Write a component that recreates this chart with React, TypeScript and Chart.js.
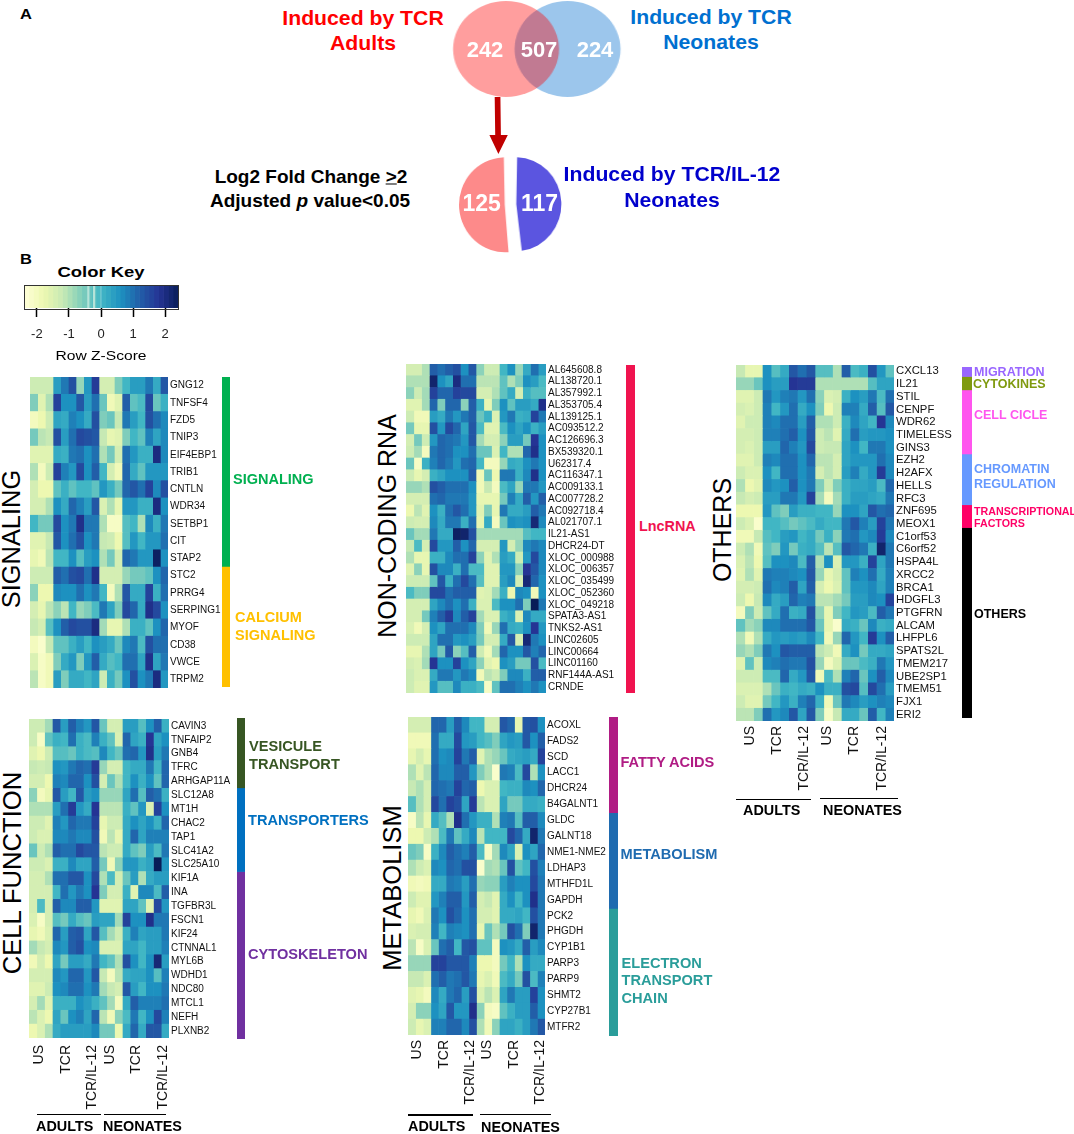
import React, { useEffect, useRef } from "react";
import { Chart, registerables } from "chart.js";

Chart.register(...registerables);
Chart.defaults.font.family = '"Liberation Sans", Arial, sans-serif';
Chart.defaults.color = "#000";

const FONT = '"Liberation Sans", Arial, sans-serif';

/* ---------- data ---------- */
const vennCounts = [242, 507, 224];
const splitCounts = [117, 125];
const keyEdges = [-2.4, -2.25, -2.1, -1.95, -1.8, -1.65, -1.5, -1.35, -1.2, -1.05, -0.9, -0.75, -0.6, -0.45, -0.3, -0.15, 0, 0.15, 0.3, 0.45, 0.6, 0.75, 0.9, 1.05, 1.2, 1.35, 1.5, 1.65, 1.8, 1.95, 2.1, 2.25, 2.4];
const keyTicks = [-2, -1, 0, 1, 2];
const columnLabels = ["US", "TCR", "TCR/IL-12", "US", "TCR", "TCR/IL-12"];

const signalingGenes = ["GNG12", "TNFSF4", "FZD5", "TNIP3", "EIF4EBP1", "TRIB1", "CNTLN", "WDR34", "SETBP1", "CIT", "STAP2", "STC2", "PRRG4", "SERPING1", "MYOF", "CD38", "VWCE", "TRPM2"];
const signalingValues = [
  [-1.3, -1.3, -1.3, .4, .9, 1.4, -.8, .5, 1.7, -1.4, -1.4, -.6, 0, .4, .4, .9, .2, 1.3],
  [-.6, -1.6, -1, 1.6, .6, .6, 1.3, .4, 1, -.4, -1.9, -1.6, 1.2, -.3, -.1, 1.5, -.4, .1],
  [-2, -1.8, -1.3, .3, .2, .8, .6, .2, 1.4, -.6, -.4, -1.2, .9, .4, 0, 1.4, 1, .7],
  [-.5, -1.1, -1.2, 1.4, .4, 1, 1.5, 1.4, 1.3, -1.2, -1.7, -1.6, -.6, 0, -.3, .8, .3, .7],
  [-1.6, -1.6, -1.6, .2, .1, .9, 1, .6, 1, -1, -.5, -1.4, 1, .5, .1, .1, 2, .7],
  [-1, -2, -1.3, 1.6, .8, .5, 1.5, .6, 1.2, 0, -1.4, -1.9, 1.1, .2, -.3, .5, .5, .5],
  [-1.4, -1.8, -1.8, -.3, .1, -.3, 0, 0, -.3, .5, .1, -.5, 1.1, 1.3, 1, 1.6, .7, 1.4],
  [-1.4, -1.4, -1, .6, .2, 1.1, .8, .4, 1.3, -1.5, -1, -1.7, .5, .5, .1, .1, 2, .6],
  [0, -.5, -.5, 1.5, .6, .9, 1.9, .9, .9, -1, -2.1, -2.1, -.2, 0, -1, .7, .1, .9],
  [-1.6, -1.6, -1.2, 1.3, .6, 1, 1.4, .6, .9, -1.2, -1.3, -1.8, -.2, .5, 0, .5, .5, 1],
  [-1.7, -1.9, -1.1, 0, 0, .6, -.2, .4, .6, -1, -.5, -1.4, 1.1, .9, .5, .5, 2.3, .6],
  [-1.3, -1.3, -1.3, 1.2, 1, 1.4, 1.5, 1, 1.9, -1.4, -1.4, -1.4, -.8, -.5, -.5, -.3, .6, 1.1],
  [-.7, -1.8, -1.8, .7, .6, .6, 1, .6, .9, 0, -2, -1, 1.3, .2, .2, 1.6, .1, 1],
  [-1.4, -1.7, -1.1, -.7, -1.1, 0, -.8, -.6, -.1, .9, .3, -.6, 1.5, 1.1, .2, 1.9, 1.5, .6],
  [-1.2, -1.4, -.2, .6, 1.2, 1.5, 1.4, 1.4, 2, -.9, -1.7, -1.7, -1, .1, .1, -.3, .6, 1.1],
  [-2, -2.2, -1.2, -.3, -.3, .1, .4, 0, .6, .4, .2, -.4, .7, .9, -.1, 1.4, 1, 1],
  [-1.5, -2.1, -1.9, -.6, .2, .5, -.6, .5, 1.2, .2, -.2, 0, 1, 1, .3, 1.9, .3, .9],
  [-1.1, -2.1, -1.9, .4, -.6, .2, .2, 0, .3, -1.3, .1, -.5, .6, 1.4, .6, .9, 2, .5],
];

const noncodingGenes = ["AL645608.8", "AL138720.1", "AL357992.1", "AL353705.4", "AL139125.1", "AC093512.2", "AC126696.3", "BX539320.1", "U62317.4", "AC116347.1", "AC009133.1", "AC007728.2", "AC092718.4", "AL021707.1", "IL21-AS1", "DHCR24-DT", "XLOC_000988", "XLOC_006357", "XLOC_035499", "XLOC_052360", "XLOC_049218", "SPATA3-AS1", "TNKS2-AS1", "LINC02605", "LINC00664", "LINC01160", "RNF144A-AS1", "CRNDE"];
const noncodingValues = [
  [-1.4, -1.4, -1, 1.2, 1, 1.2, 1.4, .6, 1.3, -.7, -1.3, -1.3, 0, .6, -.8, .2, 1, .4],
  [-1, -1, -1, 2.2, .6, .3, 2, 1, 1, -1.1, -1.1, -1.1, -.3, -1, -.6, .6, .4, -.1],
  [-.7, -1.3, -.9, 1.6, 1.1, 1.1, 1.6, 1.5, 1.5, -1.4, -1.4, -1, -.3, .2, -1.4, .1, -.2, -.2],
  [-1.6, -1.6, -.9, 1.1, -.6, 1.1, 1.1, -.7, 1.2, .1, -1.7, -.6, .6, -.3, .4, .4, .2, 1.9],
  [-1.3, -1.9, -1.9, .4, .2, .9, .5, .9, 1.2, -.4, .1, -1.5, .5, .9, .1, .2, 1.6, .9],
  [-.5, -1.7, -1.7, 1.4, .5, 1.5, 1.1, .3, 1.3, -.1, -1.6, -1.6, -.1, .6, .3, .6, .1, .4],
  [-1.4, -.5, -1.3, .5, 1.1, 1, .9, .5, 1.3, -.9, -1.4, -1.4, -.7, .4, .4, -.5, 1.8, .6],
  [-1.3, -.9, -2, .9, 1.1, 1, .6, .6, 1, -.4, -.4, -1.5, 0, -1, -1, 1.1, 1.9, .6],
  [-.4, -2.1, .1, .8, 1.1, .9, .5, 1, 1.1, 0, -2, -2, -.8, .2, .1, .6, .9, .6],
  [-1.3, -1.7, -1.4, .1, .3, .6, .6, .6, 1.2, -1.9, -.4, -1.8, .9, .9, .1, .7, 1.9, .6],
  [-.8, -.8, -1, 1.4, 1.2, 1, 1, 1, .6, -1.9, -1.2, -2, -.1, .3, -.8, .9, .9, .5],
  [-1.4, -1.4, -1.4, 1, 1.1, .9, .9, .9, .5, -1.7, -1.7, -1.7, -.5, .8, .2, 1.2, .5, 1.2],
  [-1.8, -1.1, -1.6, .6, .1, 1, 1.3, 1, .5, -1.6, -.6, -1.7, .9, .2, .2, .4, 1.2, .9],
  [-1.3, -1.4, -1.4, .7, .2, .9, .9, .1, 1, -1.7, .2, -2, -.4, .6, .5, .6, 2.1, .7],
  [-.4, -.9, -.9, .9, .2, .2, 2.3, 2.2, 1.4, -.9, -.9, -.9, -.9, -.9, -.9, -.2, 0, 0],
  [-1.2, -.1, -1.4, 1.5, .5, .5, 1.2, .6, 1.1, -1.4, -1.4, -1.4, .5, -1.4, -.8, .7, .9, .7],
  [-1, -1.7, -1.7, .1, .1, .7, 1, 1, 1.6, -.7, -1.6, -1, .4, .2, -1.3, .5, 1.5, .7],
  [-1.6, -.7, -1.7, 1.4, .7, .7, .1, 1, -.1, -.1, -1.6, -1.6, .5, .5, -.7, 1.8, 1.3, .7],
  [-1.3, -1.3, -1.3, -.3, 1.3, .1, 1, 1.5, 1, -.2, -1.6, -1.6, .4, .7, -1.4, 2.1, 1.1, .6],
  [-.1, -.6, -.6, 1.5, 1.5, 1, 1.2, 1.2, 1.2, -1.6, -1.5, -.9, .1, -1.8, .7, .6, -1.9, .6],
  [-1.4, -1.4, -1.4, .3, .7, 1, .6, 1, .1, -1.5, -1.5, -.1, .6, .6, 1, -.6, 2.4, .9],
  [-1.4, -1.4, -.5, .8, 1.2, 1.7, .7, 1.2, 1.6, -.9, -1.5, -1.5, .1, .3, -1.5, .7, .2, .2],
  [-1.5, -1.9, -1.4, .6, .3, 1, 1, 1, .7, -.6, -1.9, -.8, 1, .2, .1, .6, 1.8, .5],
  [-1.3, -1.3, -1.3, .3, 1, 1, .5, .6, .4, -.5, -1.4, -1.4, .2, 1.3, -1.4, 2.1, .9, .6],
  [-1.7, -1.7, -1, .3, -.5, 1.3, -.7, -.2, 1.2, -1.3, -1.9, -.9, 1.1, .6, .6, 1.3, .8, 1.1],
  [-1.4, -1.5, -.9, 1.8, .6, .6, 1.6, .6, .3, -.7, -1.6, -1.8, .6, .4, -.5, -.5, 1.4, -.1],
  [-1.3, -1.5, -1.5, .2, .9, .9, .5, .9, .7, -1.9, -1.1, -1.3, -.6, .7, .7, .1, 1.2, 1.2],
  [-1.3, -1.6, -1.6, .5, -.2, -.2, .7, .1, .1, -.1, -2.1, -.3, 1, 1, .8, .6, .9, .6],
];

const othersGenes = ["CXCL13", "IL21", "STIL", "CENPF", "WDR62", "TIMELESS", "GINS3", "EZH2", "H2AFX", "HELLS", "RFC3", "ZNF695", "MEOX1", "C1orf53", "C6orf52", "HSPA4L", "XRCC2", "BRCA1", "HDGFL3", "PTGFRN", "ALCAM", "LHFPL6", "SPATS2L", "TMEM217", "UBE2SP1", "TMEM51", "FJX1", "ERI2"];
const othersValues = [
  [-1.2, -1.7, -1.7, .6, -.2, .2, 1.3, 1, 1.3, -.2, -.2, -1, 1.2, -.1, .1, 1.4, .5, -.3],
  [-.8, -.8, -.4, .6, .4, .4, 1.8, 1.7, 1.7, -1, -1, -1, -1, -1, -1, -.2, .3, .3],
  [-1.6, -1.6, -1.3, .9, .5, .8, .9, .5, 1, -.7, -1.5, -1.4, .1, .6, .4, .9, -.1, 1],
  [-1.4, -1.5, -1.3, .8, 0, .5, 1, .2, .6, -.6, -1.8, -1.3, .8, .8, .2, 1.2, -.2, 1.3],
  [-1.6, -1.3, -1.3, .8, .7, 1, 1, .4, 1.2, -1, -1, -1.3, .1, .7, .3, 0, 1.8, .7],
  [-1.4, -1.4, -1.3, .8, .8, 1, 1.2, .6, 1.3, -1.3, -1.1, -1.6, .2, 1, .4, .5, .5, .6],
  [-1.4, -1.5, -1.3, .4, .4, 1.1, .8, .5, 1.5, -1.3, -1.2, -1.2, .3, .6, 0, .9, .9, .6],
  [-1.6, -1.6, -1.3, .8, .7, 1, 1, .6, 1.1, -1.1, -1.1, -1.4, .3, .5, .5, .5, 1, .7],
  [-1.3, -1.5, -1.5, .6, 0, 1, 1, .6, .9, -1.4, -1.1, -1.4, .4, .8, .2, .5, 1.7, .7],
  [-1, -1.8, -1.6, .7, .5, .6, 1.2, .6, .9, -.6, -1.3, -.6, .1, .3, .3, .4, -.1, 1.1],
  [-1.2, -1.4, -1.3, .4, .4, .9, .9, .5, 1.6, -.9, -2, -.9, .1, .4, .4, .3, .2, .9],
  [-1.8, -1.8, -1.8, .5, -.3, -.6, .4, .1, .1, 0, 0, -.8, .6, .6, .3, 1.3, 1, 1.1],
  [-1.3, -1.5, -2.2, 0, 0, -.2, -.5, -.3, -.1, .2, 0, 0, .9, 1.3, .8, .4, 1.6, .9],
  [-1.9, -1.9, -1.2, -.2, 0, .4, .5, 0, .2, -.5, .1, -.7, .9, 1, .5, .7, 1.7, .7],
  [-1.3, -1, -1.9, -.3, -.6, .5, -.5, .1, .2, -.2, -1.1, -.2, 1.3, 1.1, .9, .1, 2.2, .9],
  [-1.5, -1.1, -1.8, -.2, .6, .6, .7, -.1, 1.2, -1, .6, -1.5, .5, .5, .1, 1.6, .3, .9],
  [-1.6, -1, -1.6, .9, .8, .8, .7, .6, 1.3, -.8, -1.7, -1.4, -.3, .8, .6, 1, .2, .8],
  [-1.4, -1.4, -1.3, 1, .7, .8, 1.2, .3, 1.2, -1.4, -1.8, -1.5, -.3, .5, .5, .7, .3, .8],
  [-1.3, -1.8, -1.2, .7, .2, .4, 1.1, .8, .9, -1.1, -1.1, -.9, -.5, .4, .4, .7, .6, 1.6],
  [-2, -.6, -1.3, -.3, .2, 1, .1, .2, 1.4, -.7, -1.7, -.6, 0, .5, .4, -.1, 1.2, .9],
  [-.3, -.9, -.7, .7, .7, 1, 1, 1, 1.3, -.4, -1.7, -2.2, .2, .1, -.4, .7, .1, .2],
  [-1, -1.9, -1, .2, .5, .4, .5, .4, .7, 0, -1.9, -.8, 1.1, .5, 0, 1.7, .6, 1.2],
  [-.8, -1, -.6, .9, .6, 1.3, 1.2, 1.2, 1.2, -1.1, -1.3, -1.9, .2, .6, -.5, .2, .2, .3],
  [-1.6, -.3, -1.3, .7, .8, 1, .9, .9, 1.4, -.8, -2, -1.5, -.4, -.4, -.1, .1, .9, .5],
  [-1.3, -1.3, -1.3, -.1, -.1, 1.1, .2, .5, 1.3, -1.9, -.1, -1, .8, 1.1, -.4, .6, 1.2, .7],
  [-1.5, -1.5, -1.5, -1, -.4, .1, 0, .2, .1, .6, .1, .1, 1.4, 1.5, -.2, 1.5, 1, .4],
  [-1.3, -1.6, -1.6, -.5, 0, .5, .1, .8, 1.1, .1, -1.9, -.4, .9, .7, .4, .6, .8, .7],
  [-1.1, -1.1, -.6, 1, .5, .7, 1.3, .3, 1.3, -.6, -2.1, -1.2, .2, .2, -.4, 1.2, 0, .8],
];

const cellGenes = ["CAVIN3", "TNFAIP2", "GNB4", "TFRC", "ARHGAP11A", "SLC12A8", "MT1H", "CHAC2", "TAP1", "SLC41A2", "SLC25A10", "KIF1A", "INA", "TGFBR3L", "FSCN1", "KIF24", "CTNNAL1", "MYL6B", "WDHD1", "NDC80", "MTCL1", "NEFH", "PLXNB2"];
const cellValues = [
  [-1.3, -1.3, -.9, 1.3, .4, 1.2, .8, .5, 1.3, -.4, -1.4, -1.4, .4, .4, -.2, .6, 1.2, .1],
  [-1.3, -2.1, -.3, .1, 0, 1, .1, -.1, .8, .1, -.3, -1.5, 1.1, .3, .1, 1.8, .3, .6],
  [-1.6, -1.8, -1.3, -.2, -.2, -.4, .1, -.1, -.2, .7, 0, -.4, 1, 1.1, .5, 1.9, .4, .9],
  [-1.2, -1.3, -1.2, .6, .5, .9, 1.1, 1, 1.7, -.8, -1.4, -1.4, 0, .2, .2, .9, 0, 1.1],
  [-1.4, -1.4, -1.8, .8, .7, 1.1, 1.1, .6, 1.4, -1.4, -.4, -1, 0, .6, .1, .6, -.3, 1.1],
  [-.7, -2, -1.7, 1.3, .4, 0, 1.3, .4, .6, -.8, -.8, -.8, .3, 1, -.2, 1.2, 1, .1],
  [-1, -1, -1, .4, 1, 1.7, .5, .2, 1.8, -1.1, -1.1, -1.1, .1, -.3, .5, -1.5, 1.6, .6],
  [-1.3, -1.3, -1.6, .8, .5, 1.1, .9, .9, 1.6, -1.7, -1.3, -1.3, .2, .6, .3, .6, .1, 1.1],
  [-1.3, -1.5, -1.5, .7, .7, .9, .7, .7, 1.4, -1.9, -1.1, -1.7, .2, 1.1, .3, .8, .8, .8],
  [-.4, -1.3, -1, 1.2, 1, 1, 1.5, 1.3, 1.3, -1.1, -1.3, -1.3, .2, -.3, -.6, .4, -.1, .9],
  [-1.3, -1.3, -1.5, .1, .1, .7, .3, .3, 1.2, -.5, -1.9, -.7, .5, .5, .1, .3, 2.4, .5],
  [-1.4, -1.4, -1, 1, 1, 1.3, 1.3, .6, 1.5, -1, -.1, -1.4, -.4, .4, -1, .2, .4, .4],
  [-1.4, -1.4, -1.4, 0, 1, .5, .9, .6, 1.8, -.6, -1.4, -1.4, .1, -1.6, .7, .7, -.1, 1.2],
  [-1.4, -.1, -1.4, 1.2, .7, .7, 1.2, 1.2, .5, -1.6, -1.6, -1.6, .3, .3, -.3, -1.6, 1.5, .5],
  [-1.5, -2.1, -1.4, -.2, -.5, .2, -.2, -.4, .4, .3, .3, -.9, 1.6, .6, .6, 1.9, .9, .9],
  [-1.7, -1.9, -1.5, 1.1, .4, 1.2, 1.3, .3, 1.3, -.2, -.9, -1.3, .1, .8, .3, .4, .4, .9],
  [-.9, -1.2, -1.4, .7, .5, 1.2, 1.4, .6, .7, -1.5, -1.5, -1.5, .3, .3, 0, .4, .4, .8],
  [-1.9, -1.4, -1.8, .3, -.5, .4, .4, .2, .9, 0, -.3, -1, 1.4, .6, 0, .6, 2.1, .4],
  [-1.4, -1.4, -1.4, .7, .5, 1.1, 1.1, .5, 1.3, -1.2, -2, -1.1, .2, .3, .3, .6, -.2, .8],
  [-1.6, -1.6, -1.3, .6, .7, 1, 1, .6, .9, -.9, -1.2, -1.4, 1.3, .4, 0, .6, .6, .9],
  [-1.4, -.9, -1.6, .1, .1, .1, .6, .4, .1, -.3, -.9, -2, .2, 1.2, .8, .8, .8, 1],
  [-1.1, -1.5, -1.8, .3, -.4, .6, .8, .3, 1.1, -1.1, -1.9, -.7, -.1, .9, 0, .6, 1.5, .8],
  [-1.8, -1.5, -1, .2, .4, .4, .4, .4, .7, -.5, -.5, -1.8, .2, 1.1, .2, 1.3, 1.3, .2],
];

const metabolismGenes = ["ACOXL", "FADS2", "SCD", "LACC1", "DHCR24", "B4GALNT1", "GLDC", "GALNT18", "NME1-NME2", "LDHAP3", "MTHFD1L", "GAPDH", "PCK2", "PHGDH", "CYP1B1", "PARP3", "PARP9", "SHMT2", "CYP27B1", "MTFR2"];
const metabolismValues = [
  [-1.4, -1.4, -1.4, 1.1, 1.1, .4, 1.2, .7, 0, 0, -1.4, -1.4, 1.3, 1.1, -1.7, 1.3, 1.4, .6],
  [-1.9, -1.9, -1.9, 1, .2, .2, 1.5, .5, .4, 0, -.2, -.6, .3, .5, .4, 1.3, .6, 1.2],
  [-1.7, -1.4, -1.7, 1, .6, .7, 1.6, .9, 1.2, -1.6, -1, -.8, -.4, .2, .3, .4, .2, 1.6],
  [-1, -1.6, -1.1, 1.1, .7, .7, 1.2, 1.2, .5, -.6, -1, -2.2, .9, .8, -.1, 1.5, -1, .6],
  [-1.2, -1, -1.4, 1.1, 1, .9, 1.6, 1.1, 1.2, -1.8, -1.5, -1.5, 0, .1, .1, .7, .6, 1.1],
  [-.2, -1, -1.4, 1.5, 1, 1.6, 1.4, .3, 1.7, -1.1, -1.5, -1.5, .3, -.5, -.5, .2, .2, .1],
  [-2.1, -1.1, -1.7, .2, -.2, -1, 1.9, 1, .5, .1, .1, -1, .8, .9, -.2, 1.2, 1.2, .7],
  [-1.8, -1.8, -1.3, -1, -.1, .9, -.3, .2, .7, -1.1, 0, 0, 0, 1.5, 1.1, .2, 2.2, .9],
  [-.4, -.6, -2.1, .1, .7, 1.2, 1, .8, 1.2, -.1, -2.1, -.9, .7, .3, -1.5, .6, .3, 1.1],
  [-1, -1.3, -1.5, .7, .6, 1.1, 1, 1.4, 1.4, -2.2, -.9, -1, -.4, 1.4, -.3, 0, 1.4, .8],
  [-1.9, -2, -1.9, .2, .2, .9, .8, .4, 1, -.8, -.7, -.7, .4, .8, .6, .6, 1.5, .9],
  [-1.3, -1.6, -1.6, .5, .8, 1.2, 1.2, .5, 1.2, -1.4, -1.2, -1.6, .2, .6, 0, .6, 1.9, .9],
  [-1.7, -1.9, -1.5, .9, .6, 1.4, 1.1, .6, 1, -1.4, -1.4, -1.6, .2, .2, .3, 0, 1.4, .9],
  [-1.5, -1.4, -1.4, .8, 0, .8, .7, .6, 1, -1.7, -.4, -1, -.5, 1.4, 1, -.6, 2.2, .9],
  [-1.1, -2.1, -1.5, -.4, 1, 1.2, 0, 1.3, 1.4, -.3, -.3, -2, .6, .5, .2, 1.2, .4, .7],
  [-.8, -.8, -.8, 1.6, 1.6, 1.3, 1.3, 1.3, .8, -1.8, -1.8, -2, -.5, 0, -1, .6, .2, .2],
  [-1.2, -1.2, -1.5, 1, 1.2, .9, 1, 1.3, .9, -1.7, -1.5, -1.9, -.1, .2, -.5, 1.4, -.1, .8],
  [-1.6, -1.7, -2, .7, .2, .9, 1.1, .4, 1.4, -1.5, -1.1, -1.5, .3, .9, .4, .4, 1.6, .6],
  [-1.4, -.7, -.7, .6, .3, 1.3, .5, .5, 1.9, -.7, -2, -2.1, -.3, .1, .4, .4, 1.2, .6],
  [-1.3, -1.7, -1.5, .8, .8, 1.1, 1.1, .7, 1.4, -1, -1.9, -.7, .3, .3, .1, .4, .9, 1.3],
];

const signalingGroups = [["SIGNALING", 11, "#00b050"], ["CALCIUM SIGNALING", 7, "#ffc000"]];
const noncodingGroups = [["LncRNA", 28, "#f0134f"]];
const othersGroups = [["MIGRATION", 0.75, "#9966ff"], ["CYTOKINES", 1.05, "#7f9a0f"], ["CELL CICLE", 5.05, "#ff55ee"], ["CHROMATIN REGULATION", 4, "#6699ff"], ["TRANSCRIPTIONAL FACTORS", 1.8, "#ff0066"], ["OTHERS", 15, "#000000"]];
const cellGroups = [["VESICULE TRANSPORT", 5, "#375623"], ["TRANSPORTERS", 6, "#0070c0"], ["CYTOSKELETON", 12, "#7030a0"]];
const metabolismGroups = [["FATTY ACIDS", 6, "#b01c84"], ["METABOLISM", 6, "#1f6bb0"], ["ELECTRON TRANSPORT CHAIN", 8, "#2a9d9a"]];

/* ---------- colour scale (YlGnBu over -2.4 .. 2.4) ---------- */
const ramp = [[255, 255, 217], [237, 248, 177], [199, 233, 180], [127, 205, 187], [65, 182, 196], [29, 145, 192], [34, 94, 168], [37, 52, 148], [8, 29, 88]];
function zColor(z: number) {
  const t = Math.max(0, Math.min(7.9999, ((z + 2.4) / 4.8) * 8));
  const i = Math.floor(t);
  const f = t - i;
  const c = ramp[i].map((a, k) => Math.round(a + (ramp[i + 1][k] - a) * f));
  return `rgb(${c[0]},${c[1]},${c[2]})`;
}

/* ---------- chart components ---------- */
function useChart(make: (c: HTMLCanvasElement) => Chart) {
  const ref = useRef<HTMLCanvasElement>(null);
  useEffect(() => {
    const ch = make(ref.current as HTMLCanvasElement);
    return () => ch.destroy();
  }, []);
  return ref;
}

const noPad = (s: any) => {
  s.paddingTop = 0;
  s.paddingBottom = 0;
  s.paddingLeft = 0;
  s.paddingRight = 0;
};

function Heatmap({ x, y, w, h, genes, values, size = 10, labelW = 90, tickAt, tickPad = 5 }: any) {
  const bottom = tickAt ? 80 : 0;
  const ref = useChart((c) =>
    new Chart(c, {
      type: "bar",
      data: {
        labels: genes,
        datasets: values[0].map((_: number, col: number) => ({
          data: genes.map(() => 1),
          backgroundColor: values.map((row: number[]) => zColor(row[col])),
          borderWidth: 0,
          barPercentage: 1,
          categoryPercentage: 1,
        })),
      },
      options: {
        indexAxis: "y",
        responsive: false,
        animation: false,
        events: [],
        layout: { padding: 0, autoPadding: false },
        plugins: { legend: { display: false }, tooltip: { enabled: false } },
        scales: {
          y: {
            stacked: true,
            position: "right",
            grid: { display: false, drawTicks: false },
            border: { display: false },
            ticks: { autoSkip: false, font: { size }, color: "#111", padding: 2 },
            afterFit: (s: any) => { s.width = labelW; noPad(s); },
          },
          x: {
            stacked: true,
            type: "linear",
            min: 0,
            max: values[0].length,
            display: !!tickAt,
            grid: { display: false, drawTicks: false },
            border: { display: false },
            afterBuildTicks: (s: any) => { s.ticks = (tickAt || []).map((v: number) => ({ value: v })); },
            ticks: {
              autoSkip: false,
              maxRotation: 90,
              minRotation: 90,
              padding: tickPad,
              font: { size: 14 },
              color: "#111",
              callback: (_: any, i: number) => columnLabels[i],
            },
            afterFit: (s: any) => { s.height = bottom; noPad(s); },
          },
        },
      },
    } as any)
  );
  return <canvas ref={ref} width={w + labelW} height={h + bottom} style={{ position: "absolute", left: x, top: y }} />;
}

function GroupBar({ x, y, w, h, groups }: any) {
  const total = groups.reduce((a: number, g: any) => a + g[1], 0);
  const ref = useChart((c) =>
    new Chart(c, {
      type: "bar",
      data: {
        labels: ["group"],
        datasets: groups.map((g: any) => ({ label: g[0], data: [g[1]], backgroundColor: g[2], borderWidth: 0, barPercentage: 1, categoryPercentage: 1 })),
      },
      options: {
        responsive: false,
        animation: false,
        events: [],
        layout: { padding: 0, autoPadding: false },
        plugins: { legend: { display: false }, tooltip: { enabled: false } },
        scales: {
          x: { stacked: true, display: false },
          y: { stacked: true, display: false, reverse: true, min: 0, max: total },
        },
      },
    } as any)
  );
  return <canvas ref={ref} width={w} height={h} style={{ position: "absolute", left: x, top: y }} />;
}

function ColorKey() {
  const ref = useChart((c) =>
    new Chart(c, {
      type: "bar",
      data: {
        labels: ["key"],
        datasets: [
          { data: [[-0.42, -0.37]], backgroundColor: "#b5e3d8", borderWidth: 0 },
          { data: [[-0.24, -0.19]], backgroundColor: "#b5e3d8", borderWidth: 0 },
          ...keyEdges.slice(0, -1).map((e, i) => ({
            data: [[e, keyEdges[i + 1]]],
            backgroundColor: zColor((e + keyEdges[i + 1]) / 2),
            borderWidth: 0,
          })),
        ].map((d) => ({ ...d, barPercentage: 1, categoryPercentage: 1, grouped: false })),
      },
      options: {
        indexAxis: "y",
        responsive: false,
        animation: false,
        events: [],
        layout: { padding: 0, autoPadding: false },
        plugins: { legend: { display: false }, tooltip: { enabled: false } },
        scales: {
          y: { display: false },
          x: {
            type: "linear",
            min: -2.4,
            max: 2.4,
            afterBuildTicks: (s: any) => { s.ticks = keyTicks.map((v) => ({ value: v })); },
            grid: { display: true, drawOnChartArea: false, drawTicks: true, tickLength: 9, tickColor: "#000", tickWidth: 1.5 },
            border: { display: false },
            ticks: { autoSkip: false, maxRotation: 0, padding: 10, font: { size: 13 }, color: "#222", callback: (v: number) => String(v) },
            afterFit: (s: any) => { s.height = 40; noPad(s); },
          },
        },
      },
    } as any)
  );
  return <canvas ref={ref} width={154} height={62} style={{ position: "absolute", left: 24, top: 286 }} />;
}

function VennTop() {
  const ref = useChart((c) =>
    new Chart(c, {
      type: "bubble",
      data: {
        datasets: [
          { data: [{ x: 0, y: 0, r: 48 }], backgroundColor: "rgba(255,0,0,0.38)", borderWidth: 0 },
          { data: [{ x: 55.7, y: 0, r: 48 }], backgroundColor: "#9cc6ec", borderWidth: 0 },
        ],
      },
      options: {
        responsive: false,
        animation: false,
        events: [],
        layout: { padding: 0, autoPadding: false },
        plugins: { legend: { display: false }, tooltip: { enabled: false } },
        scales: { x: { display: false, min: -59.8, max: 121.2 }, y: { display: false, min: -50, max: 50 } },
      },
    } as any)
  );
  return <canvas ref={ref} width={181} height={100} style={{ position: "absolute", left: 440, top: -1, transform: "scaleX(1.104)", transformOrigin: "left top" }} />;
}

function VennSplit() {
  const ref = useChart((c) =>
    new Chart(c, {
      type: "pie",
      data: {
        labels: ["Neonates", "Adults"],
        datasets: [{ data: splitCounts, backgroundColor: ["#5b55e0", "#fd8a8a"], borderWidth: 0, offset: 24 }],
      },
      options: {
        responsive: false,
        animation: false,
        events: [],
        rotation: 0,
        layout: { padding: 0, autoPadding: false },
        plugins: { legend: { display: false }, tooltip: { enabled: false } },
      },
    } as any)
  );
  return <canvas ref={ref} width={107} height={107} style={{ position: "absolute", left: 457, top: 151, transform: "scaleX(0.962)", transformOrigin: "center" }} />;
}

/* ---------- text helpers ---------- */
function T({ x, y, children, size = 12, bold = false, color = "#000", sx = 1, center = false, rot = false }: any) {
  let transform = center ? "translate(-50%,-50%)" : "translateY(-50%)";
  if (rot) transform = "translate(-50%,-50%) rotate(-90deg)";
  if (sx !== 1) transform += ` scaleX(${sx})`;
  return (
    <div style={{ position: "absolute", left: x, top: y, transform, transformOrigin: center || rot ? "center" : "left center", fontFamily: FONT, fontSize: size, fontWeight: bold ? 700 : 400, color, whiteSpace: "nowrap", lineHeight: 1 }}>
      {children}
    </div>
  );
}
const Rule = ({ x1, x2, y }: any) => <div style={{ position: "absolute", left: x1, top: y, width: x2 - x1, height: 1.5, background: "#000" }} />;

export default function App() {
  return (
    <div style={{ position: "absolute", left: 0, top: 0, width: 1074, height: 1134, overflow: "hidden", background: "#fff" }}>
      {/* Panel A */}
      <T x={20} y={13} size={15} bold sx={1.1}>A</T>
      <T x={362.7} y={17} size={21} bold color="#ff0000" sx={1.01} center>Induced by TCR</T>
      <T x={362.7} y={42} size={21} bold color="#ff0000" sx={1.01} center>Adults</T>
      <T x={711} y={16} size={21} bold color="#0070d0" sx={1.01} center>Induced by TCR</T>
      <T x={711} y={41} size={21} bold color="#0070d0" sx={1.01} center>Neonates</T>
      <VennTop />
      <T x={485} y={50} size={22} bold color="#fff" center>{vennCounts[0]}</T>
      <T x={539} y={50} size={22} bold color="#fff" center>{vennCounts[1]}</T>
      <T x={595} y={50} size={22} bold color="#fff" center>{vennCounts[2]}</T>
      <svg width={30} height={62} style={{ position: "absolute", left: 485, top: 95 }}>
        <polygon points="9.7,2 15.4,2 15.9,40 22.8,40 13.4,59 4.4,40 10.2,40" fill="#c00000" />
      </svg>
      <T x={311} y={176} size={19} bold center>Log2 Fold Change <u>&gt;</u>2</T>
      <T x={310} y={200} size={19} bold center>Adjusted <i>p</i> value&lt;0.05</T>
      <VennSplit />
      <T x={481.6} y={203} size={23} bold color="#fff" center>{splitCounts[1]}</T>
      <T x={539.6} y={203} size={23} bold color="#fff" center>{splitCounts[0]}</T>
      <T x={672.3} y={173} size={21} bold color="#0000cc" sx={1.01} center>Induced by TCR/IL-12</T>
      <T x={672} y={199} size={21} bold color="#0000cc" sx={1.01} center>Neonates</T>

      {/* Panel B */}
      <T x={20} y={258} size={15} bold sx={1.1}>B</T>
      <T x={101} y={270.5} size={15} bold sx={1.23} center>Color Key</T>
      <ColorKey />
      <div style={{ position: "absolute", left: 24, top: 285, width: 153, height: 23, border: "1px solid #333" }} />
      <T x={101} y={355} size={13} sx={1.2} center>Row Z-Score</T>

      {/* SIGNALING */}
      <T x={12} y={539} size={25.4} rot>SIGNALING</T>
      <Heatmap x={30} y={377} w={138} h={311} genes={signalingGenes} values={signalingValues} />
      <GroupBar x={222} y={377} w={8} h={310} groups={signalingGroups} />
      <T x={233} y={479} size={14.5} bold color="#00b050">SIGNALING</T>
      <T x={235} y={617} size={14.5} bold color="#ffc000">CALCIUM</T>
      <T x={235} y={635} size={14.5} bold color="#ffc000">SIGNALING</T>

      {/* NON-CODING RNA */}
      <T x={387} y={526} size={25} rot>NON-CODING RNA</T>
      <Heatmap x={406} y={364} w={140} h={329} genes={noncodingGenes} values={noncodingValues} />
      <GroupBar x={626} y={365} w={9} h={328} groups={noncodingGroups} />
      <T x={639} y={526} size={14.4} bold color="#f0134f">LncRNA</T>

      {/* OTHERS */}
      <T x={722} y={530} size={25} rot>OTHERS</T>
      <Heatmap x={736} y={365} w={158} h={356} genes={othersGenes} values={othersValues} size={11.3} tickAt={[1.63, 4.7, 7.8, 10.4, 13.5, 16.6]} tickPad={5} />
      <GroupBar x={962} y={367} w={10} h={351} groups={othersGroups} />
      <T x={974} y={372} size={12.5} bold color="#9966ff">MIGRATION</T>
      <T x={973} y={384} size={12.5} bold color="#7f9a0f">CYTOKINES</T>
      <T x={974} y={415} size={12.5} bold color="#ff55ee">CELL CICLE</T>
      <T x={974} y={469} size={12.5} bold color="#6699ff">CHROMATIN</T>
      <T x={974} y={484} size={12.5} bold color="#6699ff">REGULATION</T>
      <T x={974} y={511} size={10.7} bold color="#ff0066">TRANSCRIPTIONAL</T>
      <T x={974} y={523} size={10.7} bold color="#ff0066">FACTORS</T>
      <T x={974} y={614} size={12.5} bold color="#000">OTHERS</T>
      <Rule x1={736} x2={811} y={798.5} />
      <Rule x1={820} x2={898} y={797.5} />
      <T x={743} y={810} size={14.4} bold>ADULTS</T>
      <T x={823} y={810} size={14.4} bold>NEONATES</T>

      {/* CELL FUNCTION */}
      <T x={13} y={873} size={25.6} rot>CELL FUNCTION</T>
      <Heatmap x={29} y={719} w={140} h={319} genes={cellGenes} values={cellValues} tickAt={[1.3, 4.8, 8.1, 10.4, 13.8, 17.2]} tickPad={7} />
      <GroupBar x={237} y={718} w={8} h={321} groups={cellGroups} />
      <T x={249} y={746} size={14.6} bold color="#375623">VESICULE</T>
      <T x={249} y={764} size={14.6} bold color="#375623">TRANSPORT</T>
      <T x={248} y={820} size={14.6} bold color="#0070c0">TRANSPORTERS</T>
      <T x={248} y={954} size={14.6} bold color="#7030a0">CYTOSKELETON</T>
      <Rule x1={37} x2={101} y={1113.5} />
      <Rule x1={104} x2={166} y={1113.5} />
      <T x={36} y={1126} size={14.4} bold>ADULTS</T>
      <T x={103} y={1126} size={14.4} bold>NEONATES</T>

      {/* METABOLISM */}
      <T x={393} y={888} size={25.5} rot>METABOLISM</T>
      <Heatmap x={408} y={717} w={137} h={318} genes={metabolismGenes} values={metabolismValues} tickAt={[1.2, 4.7, 8.2, 10.4, 13.9, 17.4]} tickPad={5} />
      <GroupBar x={609} y={717} w={9} h={319} groups={metabolismGroups} />
      <T x={620.5} y={762} size={14.6} bold color="#b01c84">FATTY ACIDS</T>
      <T x={620.5} y={854} size={14.6} bold color="#1f6bb0">METABOLISM</T>
      <T x={621.5} y={963} size={14.6} bold color="#2a9d9a">ELECTRON</T>
      <T x={621.5} y={980} size={14.6} bold color="#2a9d9a">TRANSPORT</T>
      <T x={621.5} y={998} size={14.6} bold color="#2a9d9a">CHAIN</T>
      <Rule x1={408} x2={473} y={1114} />
      <Rule x1={480} x2={551} y={1113.5} />
      <T x={408} y={1126} size={14.4} bold>ADULTS</T>
      <T x={481} y={1127} size={14.4} bold>NEONATES</T>
    </div>
  );
}
